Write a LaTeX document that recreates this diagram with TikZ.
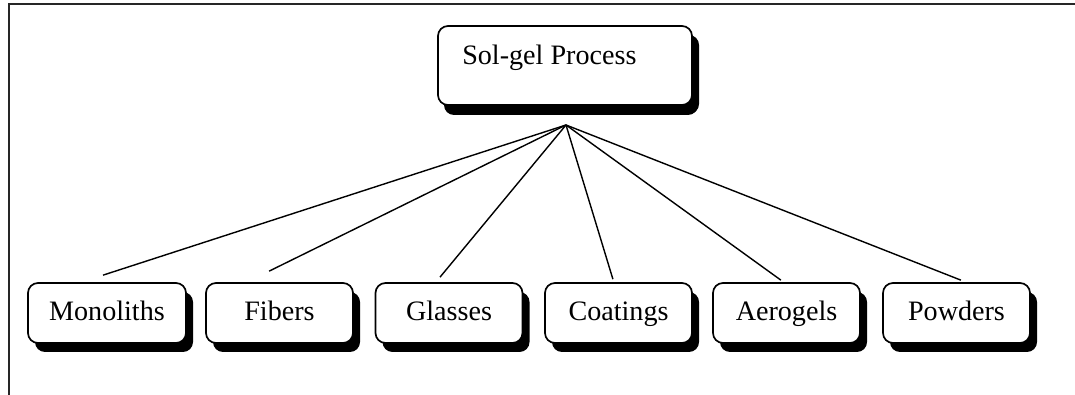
\documentclass[tikz,border=0pt]{standalone}
\usepackage{fontspec}
\setmainfont{Liberation Serif}
\usetikzlibrary{shadows}

\begin{document}
\begin{tikzpicture}[
  x=1cm,
  y=1cm,
  font=\fontsize{20}{24}\selectfont,
  formbox/.style={draw=black,line width=1.2pt,rounded corners=.25cm,fill=white,
    minimum width=3.675cm,minimum height=1.5cm,inner sep=0pt,
    text height=14pt,text depth=3.4pt,
    drop shadow={shadow xshift=.175cm,shadow yshift=-.225cm,opacity=1,fill=black}},
  branch/.style={draw=black,line width=1pt}
]
\useasboundingbox (0,0) rectangle (26.875,9.875);

% open frame: top and left rule only
\draw[line width=1.3pt,black!85] (0.225,0) -- (0.225,9.775) -- (26.875,9.775);

\node[formbox,minimum width=6.35cm,minimum height=1.975cm,
  drop shadow={shadow xshift=.15cm,shadow yshift=-.25cm,opacity=1,fill=black}]
  (process) at (14.125,8.2375) {};
\node[anchor=base west,inner sep=0pt] (processlabel) at (11.55,8.25) {Sol-gel Process};
\coordinate (hub) at (14.15,6.75);

\node[formbox,minimum width=3.95cm] (monoliths) at (2.675,2.05) {Monoliths};
\node[formbox] (fibers) at (6.9875,2.05) {Fibers};
\node[formbox] (glasses) at (11.225,2.05) {Glasses};
\node[formbox] (coatings) at (15.4625,2.05) {Coatings};
\node[formbox] (aerogels) at (19.6625,2.05) {Aerogels};
\node[formbox] (powders) at (23.9125,2.05) {Powders};

\draw[branch] (hub) -- ([xshift=-.10cm,yshift=.175cm]monoliths.north);
\draw[branch] (hub) -- ([xshift=-.26cm,yshift=.275cm]fibers.north);
\draw[branch] (hub) -- ([xshift=-.225cm,yshift=.125cm]glasses.north);
\draw[branch] (hub) -- ([xshift=-.14cm,yshift=.075cm]coatings.north);
\draw[branch] (hub) -- ([xshift=-.14cm,yshift=.05cm]aerogels.north);
\draw[branch] (hub) -- ([xshift=.11cm,yshift=.05cm]powders.north);
\end{tikzpicture}
\end{document}
